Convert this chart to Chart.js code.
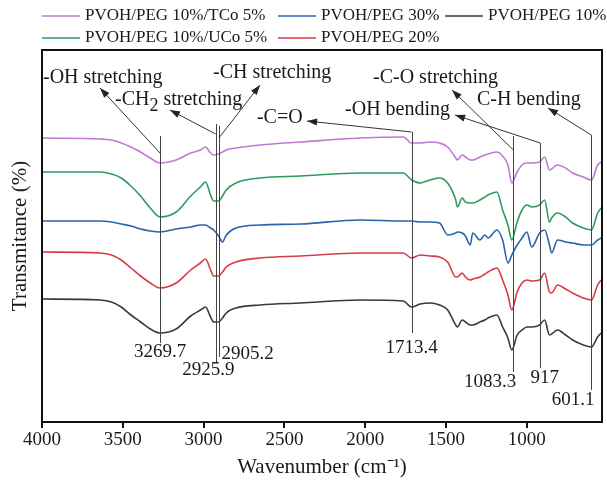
<!DOCTYPE html>
<html>
<head>
<meta charset="utf-8">
<script src="https://cdn.jsdelivr.net/npm/chart.js@4.4.1/dist/chart.umd.min.js"></script>
<style>
  html, body { margin: 0; padding: 0; background: #fff; }
  #wrap { width: 607px; height: 483px; }
</style>
</head>
<body>
<div id="wrap"><canvas id="ftir"></canvas></div>
<script>
// wavenumber (cm-1) sample positions, shared by all spectra
const wavenumbers = [4000, 3640, 3570, 3510, 3450, 3390, 3330, 3270, 3170, 3080,
  3020, 2988, 2957, 2938, 2907, 2883, 2860, 2800, 2650, 2400,
  2030, 1765, 1713, 1660, 1600, 1540, 1490, 1440, 1430, 1400,
  1380, 1350, 1335, 1290, 1260, 1240, 1185, 1150, 1117, 1093,
  1060, 1030, 1000, 970, 921, 890, 860, 847, 810, 760,
  717, 650, 600, 562, 540];

// transmittance, stacked with offsets (arbitrary units)
const tco5 = [286, 285, 284, 281, 277, 272, 266, 261, 264, 271,
  274, 277, 271, 269, 270, 272, 274, 276, 279, 282,
  286, 287, 281, 281, 282, 281, 277, 266, 264, 269,
  267, 264, 264, 267, 269, 270, 272, 268, 259, 241,
  252, 259, 261, 261, 262, 267, 254, 255, 259, 256,
  251, 247, 244, 259, 262];
const peg30 = [203, 203, 202, 200, 198, 195, 193, 192, 195, 197,
  199, 199, 196, 194, 188, 182, 189, 196, 199, 200,
  204, 203, 203, 202, 202, 201, 189, 191, 192, 191,
  188, 179, 191, 184, 189, 186, 194, 184, 161, 169,
  179, 186, 192, 177, 191, 194, 179, 171, 184, 182,
  181, 179, 179, 184, 186];
const peg10 = [125, 124, 122, 117, 109, 102, 95, 91, 95, 108,
  114, 117, 107, 102, 102, 106, 111, 116, 119, 121,
  124, 123, 117, 120, 121, 119, 114, 99, 97, 104,
  102, 99, 99, 102, 104, 106, 109, 97, 86, 74,
  89, 94, 97, 97, 99, 104, 89, 90, 94, 89,
  84, 79, 77, 87, 91];
const uco5 = [252, 252, 250, 246, 238, 228, 216, 207, 212, 228,
  237, 242, 229, 223, 223, 228, 234, 241, 246, 248,
  251, 251, 244, 241, 244, 246, 241, 224, 217, 226,
  222, 221, 221, 224, 227, 229, 232, 214, 199, 184,
  202, 214, 219, 217, 219, 224, 202, 206, 211, 207,
  201, 196, 194, 211, 216];
const peg20 = [172, 171, 169, 164, 156, 148, 141, 136, 141, 154,
  161, 165, 154, 148, 148, 152, 157, 162, 166, 168,
  171, 171, 166, 169, 168, 167, 162, 147, 147, 151,
  147, 144, 145, 147, 150, 152, 156, 144, 129, 114,
  132, 141, 144, 143, 144, 151, 132, 131, 139, 135,
  131, 126, 124, 139, 144];

const seriesNames = ['PVOH/PEG 10%/TCo 5%', 'PVOH/PEG 30%', 'PVOH/PEG 10%',
  'PVOH/PEG 10%/UCo 5%', 'PVOH/PEG 20%'];
const seriesValues = [tco5, peg30, peg10, uco5, peg20];
const seriesColors = ['#c07ad2', '#2b63ad', '#3a3a3a', '#2e9a5e', '#d83a47'];

const xTicks = [4000, 3500, 3000, 2500, 2000, 1500, 1000];

// marked peaks
const peakWn = [3269.7, 2925.9, 2905.2, 1713.4, 1083.3, 917, 601.1];

// annotation layout, in data units (wavenumber, transmittance)
const peakLines = [
  { top: 288, bottom: 81, lx: 3269.7, ly: 72, align: 'center' },
  { top: 300, bottom: 62, lx: 2970, ly: 54, align: 'center' },
  { top: 298, bottom: 67, lx: 2890, ly: 70, align: 'left' },
  { top: 292, bottom: 91, lx: 1713.4, ly: 76, align: 'center' },
  { top: 288, bottom: 52, lx: 1228, ly: 42, align: 'center' },
  { top: 281, bottom: 56, lx: 890, ly: 46, align: 'center' },
  { top: 289, bottom: 34, lx: 714, ly: 24, align: 'center' }
];
const bandLabels = [
  { parts: ['-OH stretching'], wn: 3994, y: 346 },
  { parts: ['-CH', '2', ' stretching'], wn: 3548, y: 324 },
  { parts: ['-CH stretching'], wn: 2942, y: 351 },
  { parts: ['-C=O'], wn: 2670, y: 306 },
  { parts: ['-C-O stretching'], wn: 1952, y: 346 },
  { parts: ['-OH bending'], wn: 2125, y: 314 },
  { parts: ['C-H bending'], wn: 1309, y: 324 }
];
const arrows = [
  { from: [3269.7, 271], to: [3641, 336] },
  { from: [2925.9, 290], to: [3208, 314] },
  { from: [2905.2, 286], to: [2651, 339] },
  { from: [1713.4, 292], to: [2360, 303] },
  { from: [1083.3, 274], to: [1463, 334] },
  { from: [917, 281], to: [1444, 309] },
  { from: [601.1, 289], to: [869, 316] }
];

const FONT = 'Liberation Serif';
Chart.defaults.font.family = FONT;
Chart.defaults.color = '#1a1a1a';

const legendCols = [42, 278, 445];
const legendRows = [16, 38];

const decorations = {
  id: 'decorations',
  afterDraw(chart) {
    const { ctx, chartArea: a, scales: { x, y } } = chart;
    ctx.save();

    // peak marker lines + numbers
    ctx.strokeStyle = '#444';
    ctx.lineWidth = 1;
    ctx.fillStyle = '#1a1a1a';
    ctx.font = '19px ' + FONT;
    ctx.textBaseline = 'middle';
    peakLines.forEach((p, i) => {
      const px = Math.round(x.getPixelForValue(peakWn[i])) + 0.5;
      ctx.beginPath();
      ctx.moveTo(px, y.getPixelForValue(p.top));
      ctx.lineTo(px, y.getPixelForValue(p.bottom));
      ctx.stroke();
      ctx.textAlign = p.align;
      ctx.fillText(String(peakWn[i]), x.getPixelForValue(p.lx), y.getPixelForValue(p.ly));
    });

    // arrows
    ctx.strokeStyle = '#333';
    ctx.fillStyle = '#222';
    arrows.forEach(ar => {
      const x1 = x.getPixelForValue(ar.from[0]), y1 = y.getPixelForValue(ar.from[1]);
      const x2 = x.getPixelForValue(ar.to[0]), y2 = y.getPixelForValue(ar.to[1]);
      const ang = Math.atan2(y2 - y1, x2 - x1);
      ctx.beginPath();
      ctx.moveTo(x1, y1);
      ctx.lineTo(x2, y2);
      ctx.stroke();
      ctx.beginPath();
      ctx.moveTo(x2, y2);
      ctx.lineTo(x2 - 10 * Math.cos(ang) + 3.5 * Math.sin(ang), y2 - 10 * Math.sin(ang) - 3.5 * Math.cos(ang));
      ctx.lineTo(x2 - 10 * Math.cos(ang) - 3.5 * Math.sin(ang), y2 - 10 * Math.sin(ang) + 3.5 * Math.cos(ang));
      ctx.closePath();
      ctx.fill();
    });

    // band labels
    ctx.fillStyle = '#1a1a1a';
    ctx.textAlign = 'left';
    bandLabels.forEach(b => {
      let cx = x.getPixelForValue(b.wn);
      const cy = y.getPixelForValue(b.y);
      b.parts.forEach((t, k) => {
        const sub = b.parts.length > 1 && k === 1;
        ctx.font = (sub ? '18px ' : '20px ') + FONT;
        ctx.fillText(t, cx, sub ? cy + 6 : cy);
        cx += ctx.measureText(t).width;
      });
    });

    // frame
    ctx.strokeStyle = '#111';
    ctx.lineWidth = 2;
    ctx.strokeRect(a.left, a.top, a.right - a.left, a.bottom - a.top);

    // legend
    ctx.font = '17px ' + FONT;
    ctx.textAlign = 'left';
    chart.data.datasets.forEach((ds, i) => {
      const lx = legendCols[i % 3], ly = legendRows[Math.floor(i / 3)];
      ctx.strokeStyle = ds.borderColor;
      ctx.lineWidth = 1.5;
      ctx.beginPath();
      ctx.moveTo(lx, ly);
      ctx.lineTo(lx + 38, ly);
      ctx.stroke();
      ctx.fillStyle = '#1a1a1a';
      ctx.fillText(ds.label, lx + 43, ly);
    });
    ctx.restore();
  }
};

new Chart(document.getElementById('ftir'), {
  type: 'line',
  data: {
    datasets: seriesNames.map((name, i) => ({
      label: name,
      data: wavenumbers.map((w, k) => ({ x: w, y: seriesValues[i][k] })),
      borderColor: seriesColors[i],
      borderWidth: 1.6,
      pointRadius: 0,
      fill: false,
      cubicInterpolationMode: 'monotone'
    }))
  },
  options: {
    responsive: true,
    maintainAspectRatio: false,
    animation: false,
    layout: { padding: { top: 50, right: 5, left: 0, bottom: 0 } },
    plugins: { legend: { display: false }, tooltip: { enabled: false } },
    scales: {
      x: {
        type: 'linear',
        reverse: true,
        min: 535,
        max: 4000,
        afterBuildTicks: s => { s.ticks = xTicks.map(v => ({ value: v })); },
        afterFit: s => { s.height = 61; },
        grid: { drawOnChartArea: false, drawTicks: true, tickLength: 6, color: '#111', lineWidth: 2 },
        border: { display: false },
        ticks: { font: { size: 19 }, padding: 1, maxRotation: 0, color: '#1a1a1a', callback: v => String(v) },
        title: { display: true, text: 'Wavenumber (cm⁻¹)', font: { size: 21 }, padding: { top: 0, bottom: 3 } }
      },
      y: {
        min: 2,
        max: 374,
        afterFit: s => { s.width = 42; },
        grid: { display: false },
        border: { display: false },
        ticks: { display: false },
        title: { display: true, text: 'Transmitance (%)', font: { size: 21 }, padding: { top: 8, bottom: 0 } }
      }
    }
  },
  plugins: [decorations]
});
</script>
</body>
</html>
